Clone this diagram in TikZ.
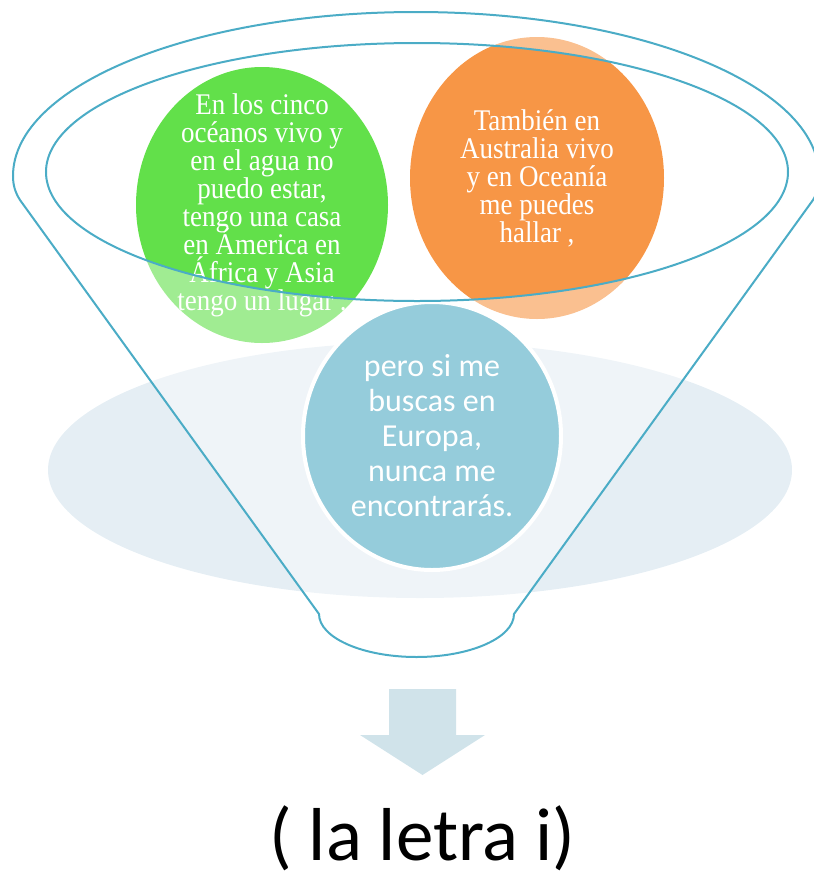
\documentclass[tikz,border=0pt]{standalone}
\usepackage{fontspec}
\setmainfont{Liberation Serif}
\newfontfamily\riddlefont[FakeStretch=0.9]{Liberation Serif}
\newfontfamily\answerfont{Carlito}
\usepackage{tikz}
\usetikzlibrary{shapes.geometric}
\definecolor{funnelblue}{HTML}{4BACC6}
\definecolor{leafgreen}{HTML}{62E04A}
\definecolor{sunorange}{HTML}{F79646}
\definecolor{skyblue}{HTML}{95CCDB}
\definecolor{paleblue}{HTML}{E5EEF4}
\definecolor{arrowblue}{HTML}{D0E3EA}
\newcommand\funnelpath{(20,200) -- (319,614) arc[start angle=180,end angle=0,x radius=97.5,y radius=43]
  -- (813,200) .. controls (818,192) and (819,185) .. (819,176)
  arc[start angle=0,end angle=-180,x radius=403,y radius=164]
  .. controls (13,185) and (15,192) .. (20,200) -- cycle}
\newcommand\tightlines{\lineskiplimit=-100pt\relax}

\begin{document}
\begin{tikzpicture}[x=0.5pt,y=-0.5pt,
  blob/.style={ellipse,inner sep=0pt,text=white,align=center},
  rtext/.style={text=white,align=center,inner sep=0pt,
    font=\riddlefont\fontsize{15pt}{14pt}\selectfont\tightlines},
  rim/.style={draw=funnelblue,line width=1pt}]
  \useasboundingbox (0,0) rectangle (814,879);
  \node[ellipse,fill=paleblue,minimum width=372pt,minimum height=128pt] (base) at (420,470) {};
  \node[blob,fill=leafgreen,minimum width=126pt,minimum height=138pt,
    label={[rtext]center:{En los cinco\\océanos vivo y\\en el agua no\\puedo estar,\\tengo una casa\\en Ámerica en\\África y Asia\\tengo un lugar .}}] (oceans) at (262,205) {};
  \node[blob,fill=sunorange,minimum width=127pt,minimum height=141pt,
    label={[rtext]center:{También en\\Australia vivo\\y en Oceanía\\me puedes\\hallar ,}}] (oceania) at (537,178) {};
  % faded body of the funnel
  \fill[white,fill opacity=0.4,even odd rule] \funnelpath (417,172) ellipse [x radius=371,y radius=129];
  \node[blob,fill=skyblue,draw=white,line width=2pt,minimum width=129pt,minimum height=134pt,
    font=\answerfont\fontsize{16pt}{17.5pt}\selectfont] (europe) at (432,436)
    {pero si me\\buscas en\\Europa,\\nunca me\\encontrarás.};
  \draw[rim] \funnelpath;
  \draw[rim] (417,172) ellipse [x radius=371,y radius=129];
  \fill[arrowblue] (389,689) -- (456,689) -- (456,735) -- (485,735) -- (422.5,775) -- (360,735) -- (389,735) -- cycle;
  \node[font=\answerfont\fontsize{37.5pt}{45pt}\selectfont,inner sep=0pt,anchor=base] (answer) at (422.5,860) {( la letra i)};
\end{tikzpicture}
\end{document}
